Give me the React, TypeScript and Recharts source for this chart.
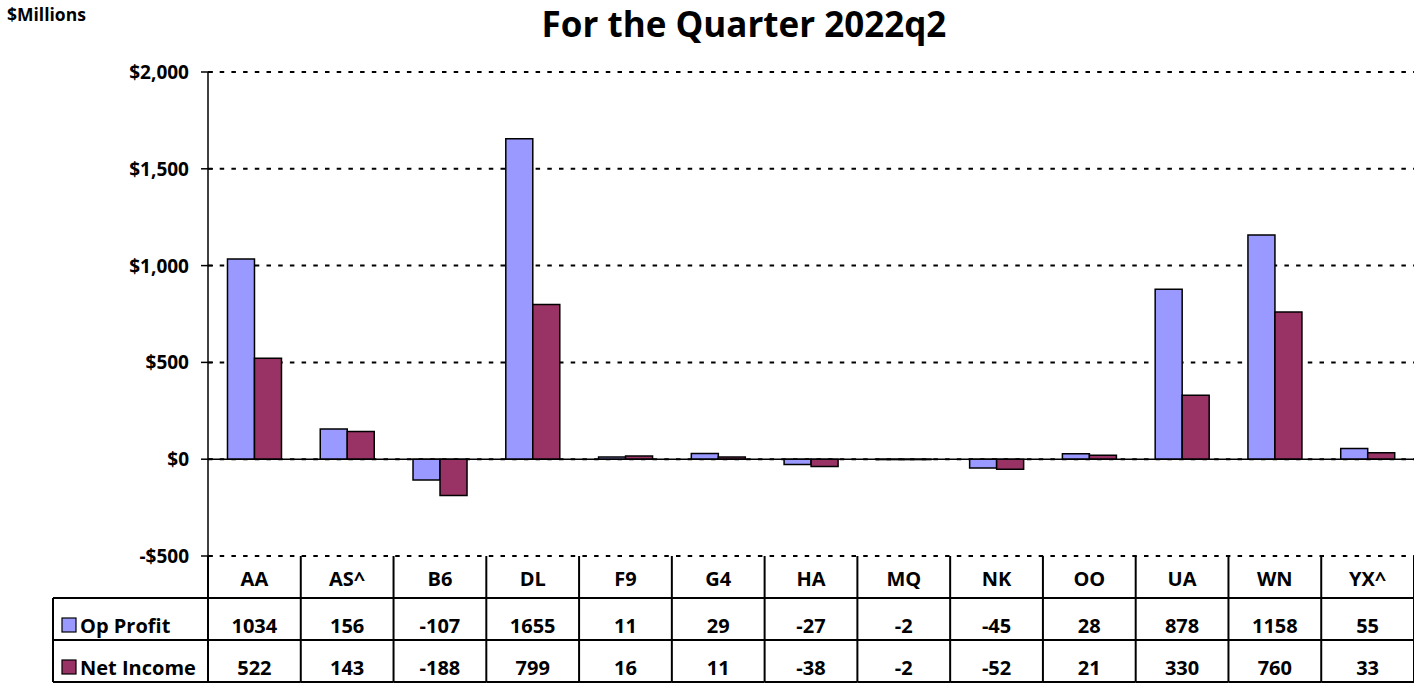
import React from "react";
import { BarChart, Bar, XAxis, YAxis, CartesianGrid, ReferenceLine } from "recharts";

const categories = ["AA", "AS^", "B6", "DL", "F9", "G4", "HA", "MQ", "NK", "OO", "UA", "WN", "YX^"];
const opProfit = [1034, 156, -107, 1655, 11, 29, -27, -2, -45, 28, 878, 1158, 55];
const netIncome = [522, 143, -188, 799, 16, 11, -38, -2, -52, 21, 330, 760, 33];
const yTicks = [-500, 0, 500, 1000, 1500, 2000];
const seriesNames = ["Op Profit", "Net Income"];
const seriesColors = ["#9999FF", "#993366"];

const data = categories.map((c, i) => ({ cat: c, op: opProfit[i], net: netIncome[i] }));

const W = 1414;
const H = 686;
const LEFT = 208;
const TOP = 72;
const BOTTOM = 556;
const BAND = (W - LEFT) / categories.length;
const ROW1 = 598;
const ROW2 = 640;
const ROW3 = 682;
const LEGX = 53;
const FONT = "'Open Sans', sans-serif";

const fmt = (v: number) => (v < 0 ? "-$" : "$") + Math.abs(v).toLocaleString("en-US");

const YTick = (props: any) => {
  const { y, payload } = props;
  return (
    <g>
      <line x1={LEFT - 7} y1={y} x2={LEFT + 5} y2={y} stroke="#000" strokeWidth={1.5} />
      <text
        x={LEFT - 19}
        y={y}
        dy={7}
        textAnchor="end"
        style={{ fontFamily: FONT, fontWeight: 700, fontSize: 19, fill: "#000" }}
      >
        {fmt(payload.value)}
      </text>
    </g>
  );
};

const TableTick = (props: any) => {
  const { x, payload, index } = props;
  const i = index ?? payload.index;
  const left = x - BAND / 2;
  const right = x + BAND / 2;
  const textStyle = { fontFamily: FONT, fontWeight: 700, fontSize: 20, fill: "#000" };
  return (
    <g>
      {i === 0 && (
        <g>
          <line x1={LEGX} y1={ROW1} x2={LEFT} y2={ROW1} stroke="#000" strokeWidth={2} />
          <line x1={LEGX} y1={ROW2} x2={LEFT} y2={ROW2} stroke="#000" strokeWidth={2} />
          <line x1={LEGX} y1={ROW3} x2={LEFT} y2={ROW3} stroke="#000" strokeWidth={2} />
          <line x1={LEGX} y1={ROW1} x2={LEGX} y2={ROW3} stroke="#000" strokeWidth={2} />
          <line x1={LEFT} y1={BOTTOM} x2={LEFT} y2={ROW3} stroke="#000" strokeWidth={2} />
          {seriesNames.map((n, k) => {
            const top = k === 0 ? ROW1 : ROW2;
            return (
              <g key={n}>
                <rect x={62} y={top + 20} width={14} height={14} fill={seriesColors[k]} stroke="#000" strokeWidth={1.2} />
                <text x={80} y={top + 35} style={textStyle} textAnchor="start">{n}</text>
              </g>
            );
          })}
        </g>
      )}
      <line x1={right} y1={BOTTOM} x2={right} y2={ROW3} stroke="#000" strokeWidth={2} />
      <line x1={left} y1={ROW1} x2={right} y2={ROW1} stroke="#000" strokeWidth={2} />
      <line x1={left} y1={ROW2} x2={right} y2={ROW2} stroke="#000" strokeWidth={2} />
      <line x1={left} y1={ROW3} x2={right} y2={ROW3} stroke="#000" strokeWidth={2} />
      <text x={x} y={BOTTOM + 30} textAnchor="middle" style={textStyle}>{categories[i]}</text>
      <text x={x} y={ROW1 + 35} textAnchor="middle" style={textStyle}>{opProfit[i]}</text>
      <text x={x} y={ROW2 + 35} textAnchor="middle" style={textStyle}>{netIncome[i]}</text>
    </g>
  );
};

export default function App() {
  return (
    <div style={{ position: "absolute", left: 0, top: 0, width: W, height: H, background: "#fff" }}>
      <div style={{ position: "absolute", left: 7, top: 2, fontFamily: FONT, fontWeight: 700, fontSize: 17.5 }}>$Millions</div>
      <div style={{ position: "absolute", left: 0, width: 1488, top: 0, textAlign: "center", fontFamily: FONT, fontWeight: 700, fontSize: 35 }}>
        For the Quarter 2022q2
      </div>
      <BarChart
        width={W}
        height={H}
        data={data}
        margin={{ top: TOP, right: 0, bottom: 0, left: 0 }}
        barCategoryGap="21%"
        barGap={0}
      >
        <CartesianGrid vertical={false} stroke="#000" strokeDasharray="4.5 7.2" strokeWidth={2} />
        <XAxis
          dataKey="cat"
          height={H - BOTTOM}
          axisLine={false}
          tickLine={false}
          interval={0}
          tick={<TableTick />}
        />
        <YAxis
          width={LEFT}
          domain={[-500, 2000]}
          ticks={yTicks}
          interval={0}
          axisLine={{ stroke: "#000", strokeWidth: 1.5 }}
          tickLine={false}
          tick={<YTick />}
        />
        <ReferenceLine y={0} stroke="#000" strokeWidth={1.5} />
        <Bar dataKey="op" name={seriesNames[0]} fill={seriesColors[0]} stroke="#000" strokeWidth={1.5} isAnimationActive={false} />
        <Bar dataKey="net" name={seriesNames[1]} fill={seriesColors[1]} stroke="#000" strokeWidth={1.5} isAnimationActive={false} />
      </BarChart>
    </div>
  );
}
